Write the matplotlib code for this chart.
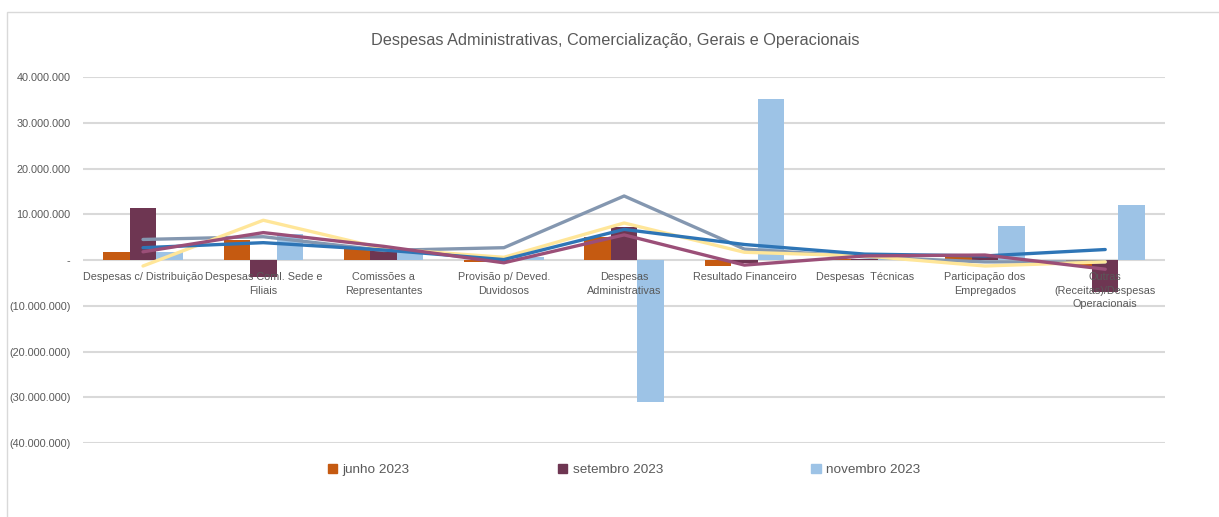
import matplotlib
matplotlib.use("Agg")
import matplotlib.pyplot as plt
from matplotlib.patches import Patch, Rectangle
from matplotlib.ticker import FuncFormatter, MultipleLocator
import numpy as np

plt.rcParams['font.family'] = ['Liberation Sans', 'DejaVu Sans']

categorias = ["Despesas c/ Distribuição", "Despesas Coml. Sede e\nFiliais",
              "Comissões a\nRepresentantes", "Provisão p/ Deved.\nDuvidosos",
              "Despesas\nAdministrativas", "Resultado Financeiro", "Despesas  Técnicas",
              "Participação dos\nEmpregados", "Outras\n(Receitas)/Despesas\nOperacionais"]

# barras (R$)
junho = [1.8e6, 4.3e6, 2.4e6, -0.5e6, 5.1e6, -1.2e6, 0.2e6, 0.6e6, -1.4e6]
setembro = [11.4e6, -3.8e6, 2.3e6, -0.1e6, 7.3e6, -0.6e6, 0.2e6, 1.0e6, -7.0e6]
novembro = [1.7e6, 5.8e6, 2.0e6, 0.7e6, -31.0e6, 35.2e6, 0.3e6, 7.4e6, 12.0e6]

# linhas (sem rótulo na legenda)
linha_azul = [2.7e6, 3.8e6, 2.2e6, 0.1e6, 6.7e6, 3.4e6, 1.3e6, 0.9e6, 2.3e6]
linha_roxa = [1.8e6, 6.0e6, 3.0e6, -0.6e6, 5.5e6, -1.1e6, 0.9e6, 1.1e6, -2.0e6]
linha_amarela = [-1.3e6, 8.7e6, 2.5e6, 0.6e6, 8.1e6, 1.7e6, 0.9e6, -1.3e6, -0.4e6]
linha_cinza = [4.5e6, 5.1e6, 2.1e6, 2.7e6, 14.0e6, 2.4e6, 0.7e6, -0.4e6, -0.4e6]

cor_jun = "#C55A11"
cor_set = "#6E3652"
cor_nov = "#9DC3E6"

fig = plt.figure(figsize=(12.19, 5.17), dpi=100)
ax = fig.add_axes([0.068, 0.143, 0.888, 0.708])

x = np.arange(len(categorias))
w = 0.22
ax.bar(x - w, junho, w, color=cor_jun, zorder=3)
ax.bar(x, setembro, w, color=cor_set, zorder=3)
ax.bar(x + w, novembro, w, color=cor_nov, zorder=3)

for vals, cor in [(linha_cinza, "#8497B0"), (linha_amarela, "#FFE699"),
                  (linha_azul, "#2E75B6"), (linha_roxa, "#9B4F78")]:
    ax.plot(x, vals, color=cor, lw=2.4, zorder=4, solid_capstyle='round')

# rótulos das categorias ficam sobre as barras, como no Excel
for i, lab in enumerate(categorias):
    ax.text(i, -2.6e6, lab, ha='center', va='top', fontsize=7.8,
            color='#595959', zorder=3.5, linespacing=1.45)

ax.set_xlim(-0.5, len(categorias) - 0.5)
ax.set_ylim(-40e6, 40e6)
ax.yaxis.set_major_locator(MultipleLocator(10e6))


def fmt(v, pos):
    if abs(v) < 1:
        return "-"
    s = f"{abs(v):,.0f}".replace(",", ".")
    return f"({s})" if v < 0 else s


ax.yaxis.set_major_formatter(FuncFormatter(fmt))
ax.tick_params(axis='y', length=0, labelsize=7.8, labelcolor='#595959', pad=9)
ax.set_xticks([])
ax.grid(axis='y', color='#D9D9D9', lw=1.5, zorder=0)
ax.set_axisbelow(True)
for s in ax.spines.values():
    s.set_visible(False)

fig.text(0.505, 0.921, "Despesas Administrativas, Comercialização, Gerais e Operacionais",
         ha='center', va='center', fontsize=11.7, color='#595959')

handles = [Patch(color=cor_jun, label="junho 2023"),
           Patch(color=cor_set, label="setembro 2023"),
           Patch(color=cor_nov, label="novembro 2023")]
fig.legend(handles=handles, loc='center', bbox_to_anchor=(0.512, 0.091), ncol=3,
           frameon=False, fontsize=9.7, handlelength=0.7, handleheight=0.7,
           handletextpad=0.4, columnspacing=11.0, labelcolor='#595959')

fig.patches.append(Rectangle((0.0057, -0.01), 1.1, 0.987, transform=fig.transFigure,
                             fill=False, edgecolor='#D9D9D9', lw=1))

fig.savefig("out.png", dpi=100)
